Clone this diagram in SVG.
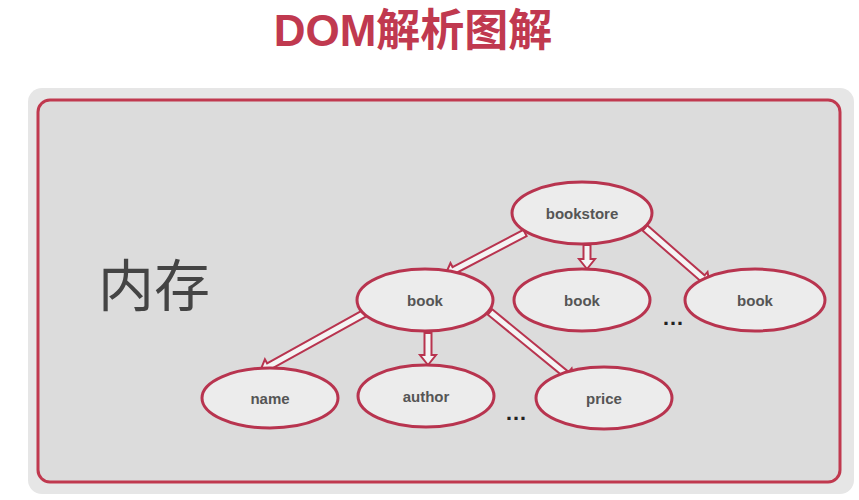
<svg xmlns="http://www.w3.org/2000/svg" width="859" height="500" viewBox="0 0 859 500">
<style>
.n ellipse{fill:#ececec;stroke:#b8344f;stroke-width:3}
.n text{font-family:"Liberation Sans","Noto Sans CJK SC",sans-serif;font-weight:bold;font-size:15px;fill:#555;text-anchor:middle}
.a{fill:#f4f4f4;stroke:#b8344f;stroke-width:2;stroke-linejoin:miter}
.dots{font-family:"Liberation Sans",sans-serif;font-size:22px;fill:#222;font-weight:bold}
</style>
<rect width="859" height="500" fill="#ffffff"/>
<text x="413" y="46" text-anchor="middle" font-family="Liberation Sans,Noto Sans CJK SC,sans-serif" font-weight="bold" font-size="44" fill="#c0394f">DOM解析图解</text>
<rect x="28" y="88" width="826" height="406" rx="14" fill="#e6e6e6"/>
<rect x="38" y="100" width="802" height="382" rx="12" fill="#dcdcdc" stroke="#c0394f" stroke-width="3"/>
<text x="98" y="306" font-family="Noto Sans CJK SC,sans-serif" font-size="56" fill="#444">内存</text>
<g id="connectors">
<path class="a" transform="translate(525,233) rotate(152.3)" d="M0,-3.5 H80 V-8 L90,0 L80,8 V3.5 H0 Z"/>
<path class="a" transform="translate(587,245) rotate(90)" d="M0,-3.5 H14 V-8 L24,0 L14,8 V3.5 H0 Z"/>
<path class="a" transform="translate(645,228) rotate(41.1)" d="M0,-3.5 H76 V-8 L86,0 L76,8 V3.5 H0 Z"/>
<path class="a" transform="translate(365,313) rotate(151)" d="M0,-3.5 H110 V-8 L120,0 L110,8 V3.5 H0 Z"/>
<path class="a" transform="translate(428,333) rotate(90)" d="M0,-3.5 H22 V-8 L32,0 L22,8 V3.5 H0 Z"/>
<path class="a" transform="translate(490,312) rotate(39.3)" d="M0,-3.5 H99 V-8 L109,0 L99,8 V3.5 H0 Z"/>
</g>
<g id="bookstore" class="n"><ellipse cx="582" cy="213" rx="70" ry="31"/><text x="582" y="219">bookstore</text></g>
<g id="book1" class="n"><ellipse cx="425" cy="300" rx="68" ry="31"/><text x="425" y="306">book</text></g>
<g id="book2" class="n"><ellipse cx="582" cy="300" rx="68" ry="31"/><text x="582" y="306">book</text></g>
<g id="book3" class="n"><ellipse cx="755" cy="300" rx="70" ry="31"/><text x="755" y="306">book</text></g>
<g id="name" class="n"><ellipse cx="270" cy="398" rx="68" ry="30"/><text x="270" y="404">name</text></g>
<g id="author" class="n"><ellipse cx="426" cy="396" rx="68" ry="31"/><text x="426" y="402">author</text></g>
<g id="price" class="n"><ellipse cx="604" cy="398" rx="68" ry="31"/><text x="604" y="404">price</text></g>
<text class="dots" x="662" y="325">…</text>
<text class="dots" x="505" y="420">…</text>
</svg>
